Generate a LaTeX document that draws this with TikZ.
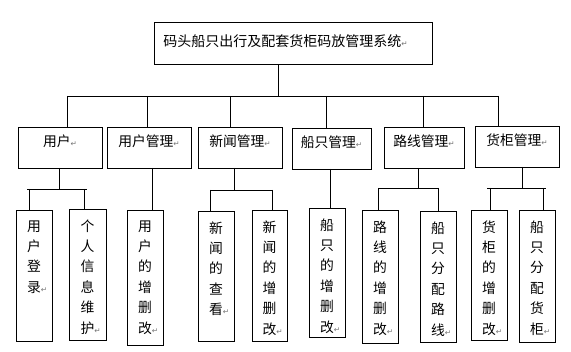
\documentclass[tikz,border=0pt]{standalone}
\usepackage{fontspec}
\usetikzlibrary{fit}
\newfontfamily\cjk{Noto Sans CJK SC}
\newfontfamily\dejavu{DejaVu Sans}
\newcommand{\retm}{{\dejavu\fontsize{7.5}{7.5}\selectfont\textcolor{black!55}{↵}}}
\begin{document}
\begin{tikzpicture}[x=1pt,y=-1pt,line width=0.9pt,
  box/.style={draw,inner sep=0pt,outer sep=0pt},
  lvtwo/.style={box,font=\cjk\fontsize{13.8}{16}\selectfont,text height=10pt,text depth=5pt},
  vtext/.style={font=\cjk\fontsize{13.8}{20.4}\selectfont,align=center,inner sep=0pt},
  conn/.style={draw,line width=0.9pt}]
\useasboundingbox[fill=white] (0,0) rectangle (571,352);

% title
\node[box,fit={(154,22) (432,64)}] (top) {};
\node[font=\cjk\fontsize{14}{16}\selectfont,anchor=west,inner sep=0pt,yshift=2pt] (toptext) at ([xshift=9pt]top.west) {码头船只出行及配套货柜码放管理系统\retm};

% level 2
\node[lvtwo,fit={(18,127) (102,168)}] (c1) {用户\retm};
\node[lvtwo,fit={(107,127) (191,168)}] (c2) {用户管理\retm};
\node[lvtwo,fit={(198,127) (282,168)}] (c3) {新闻管理\retm};
\node[lvtwo,fit={(292,128) (371,169)}] (c4) {船只管理\retm};
\node[lvtwo,fit={(384,127) (464,168)}] (c5) {路线管理\retm};
\node[lvtwo,fit={(475,126) (559,167)}] (c6) {货柜管理\retm};

% level 3 boxes
\node[box,fit={(16,210) (52,341)}] (u1) {};
\node[box,fit={(69,209) (106,340)}] (u2) {};
\node[box,fit={(127,210) (163,345)}] (u3) {};
\node[box,fit={(198,211) (234,341)}] (n1) {};
\node[box,fit={(252,210) (287,341)}] (n2) {};
\node[box,fit={(309,208) (345,337)}] (s1) {};
\node[box,fit={(362,210) (398,343)}] (r1) {};
\node[box,fit={(420,211) (456,342)}] (r2) {};
\node[box,fit={(471,210) (507,340)}] (g1) {};
\node[box,fit={(519,210) (555,342)}] (g2) {};

% level 3 texts
\node[vtext,below=10pt] (tu1) at (u1.north) {用\\户\\登\\录\rlap{\retm}};
\node[vtext,below=10pt] (tu2) at (u2.north) {个\\人\\信\\息\\维\\护\rlap{\retm}};
\node[vtext,below=10pt] (tu3) at (u3.north) {用\\户\\的\\增\\删\\改\rlap{\retm}};
\node[vtext,below=10pt] (tn1) at (n1.north) {新\\闻\\的\\查\\看\rlap{\retm}};
\node[vtext,below=10pt] (tn2) at (n2.north) {新\\闻\\的\\增\\删\\改\rlap{\retm}};
\node[vtext,below=10pt] (ts1) at (s1.north) {船\\只\\的\\增\\删\\改\rlap{\retm}};
\node[vtext,below=10pt] (tr1) at (r1.north) {路\\线\\的\\增\\删\\改\rlap{\retm}};
\node[vtext,below=10pt] (tr2) at (r2.north) {船\\只\\分\\配\\路\\线\rlap{\retm}};
\node[vtext,below=10pt] (tg1) at (g1.north) {货\\柜\\的\\增\\删\\改\rlap{\retm}};
\node[vtext,below=10pt] (tg2) at (g2.north) {船\\只\\分\\配\\货\\柜\rlap{\retm}};

% bus
\coordinate (j0) at (278,96);
\coordinate (b1) at (67,96);
\coordinate (b2) at (147,96);
\coordinate (b3) at (230,96);
\coordinate (b4) at (326,96);
\coordinate (b5) at (423,96);
\coordinate (b6) at (498,96);
\draw[conn] (j0) -- (j0 |- top.south);
\draw[conn] (b1) -- (b6);
\foreach \b/\c in {b1/c1,b2/c2,b3/c3,b4/c4,b5/c5,b6/c6}
  \draw[conn] (\b) -- (\b |- \c.north);

% level 2 -> 3
\coordinate (k1) at (59,189);
\coordinate (h1L) at (27,189); \coordinate (h1R) at (87,189);
\coordinate (d11) at (29,189); \coordinate (d12) at (84,189);
\draw[conn] (k1 |- c1.south) -- (k1);
\draw[conn] (h1L) -- (h1R);
\draw[conn] (d11) -- (d11 |- u1.north);
\draw[conn] (d12) -- (d12 |- u2.north);

\coordinate (k2) at (152,168);
\draw[conn] (k2 |- c2.south) -- (k2 |- u3.north);

\coordinate (k3) at (234,190);
\coordinate (d31) at (210,190); \coordinate (d32) at (272,190);
\draw[conn] (k3 |- c3.south) -- (k3);
\draw[conn] (d31) -- (d32);
\draw[conn] (d31) -- (d31 |- n1.north);
\draw[conn] (d32) -- (d32 |- n2.north);

\coordinate (k4) at (330,169);
\draw[conn] (k4 |- c4.south) -- (k4 |- s1.north);

\coordinate (k5) at (418,188);
\coordinate (d51) at (378,188); \coordinate (d52) at (438,188);
\draw[conn] (k5 |- c5.south) -- (k5);
\draw[conn] (d51) -- (d52);
\draw[conn] (d51) -- (d51 |- r1.north);
\draw[conn] (d52) -- (d52 |- r2.north);

\coordinate (k6) at (522,188);
\coordinate (h6L) at (487,188); \coordinate (h6R) at (546,188);
\coordinate (d61) at (490,188); \coordinate (d62) at (543,188);
\draw[conn] (k6 |- c6.south) -- (k6);
\draw[conn] (h6L) -- (h6R);
\draw[conn] (d61) -- (d61 |- g1.north);
\draw[conn] (d62) -- (d62 |- g2.north);
\end{tikzpicture}
\end{document}
